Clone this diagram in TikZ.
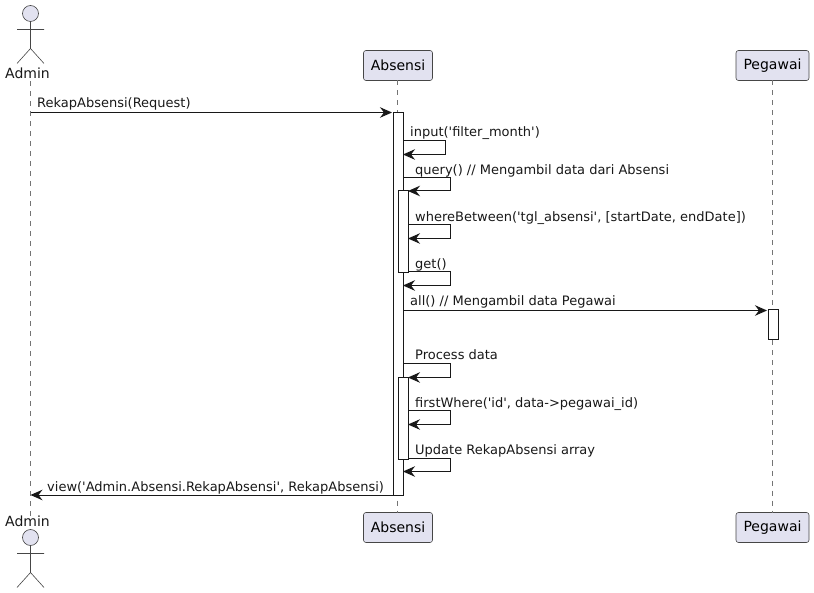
\documentclass[tikz,border=0pt]{standalone}
\usepackage{fontspec}
\newfontfamily\dejavu{DejaVu Sans}
\usetikzlibrary{arrows.meta}

\begin{document}
\begin{tikzpicture}[x=1pt, y=-1pt, >={Stealth[length=12pt, width=10.5pt, inset=4pt]}]
	% Define colors and styles
	\definecolor{ink}{HTML}{181818}
	\definecolor{lilac}{HTML}{E2E2F0}
	\tikzstyle{box} = [rectangle, draw=ink!80, line width=0.6pt, fill=lilac, rounded corners=2.5pt, minimum width=69pt, minimum height=30pt, outer sep=0pt, inner sep=0pt, font=\dejavu\fontsize{14}{16}\selectfont]
	\tikzstyle{head} = [circle, draw=ink!80, line width=0.6pt, fill=lilac, minimum size=16pt, inner sep=0pt, outer sep=0pt]
	\tikzstyle{bar} = [rectangle, draw=ink, line width=1pt, fill=white, minimum width=10pt, outer sep=0pt, inner sep=0pt]
	\tikzstyle{actor text} = [anchor=base, inner sep=0pt, font=\dejavu\fontsize{14}{16}\selectfont, text=ink]
	\tikzstyle{msg text} = [anchor=base west, inner sep=0pt, font=\dejavu\fontsize{13}{15}\selectfont, text=ink]
	\tikzstyle{lifeline} = [draw=ink!60, line width=0.6pt, dash pattern=on 5pt off 5pt]
	\tikzstyle{limb} = [draw=ink!80, line width=0.6pt]
	\tikzstyle{msg} = [draw=ink, line width=1pt, ->]

	\useasboundingbox (0,0) rectangle (814,593);

	% Nodes
	\node [head] (admin head) at (30.5,13.5) {};
	\node [actor text] (admin label) at (27.5,78.8) {Admin};
	\node [box] (absensi) at (398,65.5) {Absensi};
	\node [box, minimum width=73pt] (pegawai) at (772.5,65.5) {Pegawai};
	\node [head] (admin foot head) at (30.5,537.5) {};
	\node [actor text] (admin foot label) at (27.5,526.5) {Admin};
	\node [box] (absensi foot) at (398,527.5) {Absensi};
	\node [box, minimum width=73pt] (pegawai foot) at (772.5,527.5) {Pegawai};

	% Lifelines
	\path [lifeline] (admin label.south -| admin head.south) ++(0,2) -- (admin foot label.north -| admin head.south);
	\path [lifeline] (absensi.south) ++(-1,0) -- ([xshift=-1pt]absensi foot.north);
	\path [lifeline] (pegawai.south) -- (pegawai foot.north);

	% Activation bars
	\node [bar, minimum height=382.5pt] (main bar) at (398,303.75) {};
	\node [bar, minimum height=82pt] (query bar) at (403,232) {};
	\node [bar, minimum height=82pt] (process bar) at (403,418.5) {};
	\node [bar, minimum height=30pt] (pegawai bar) at (773,325) {};

	% Actor limbs
	\path [limb] (admin head.south) -- ++(0,27) ++(-13.5,-19) -- ++(27,0) ++(-13.5,19) -- ++(-13.5,15) ++(13.5,-15) -- ++(13.5,15);
	\path [limb] (admin foot head.south) -- ++(0,27) ++(-13.5,-19) -- ++(27,0) ++(-13.5,19) -- ++(-13.5,15) ++(13.5,-15) -- ++(13.5,15);

	% Messages
	\node [msg text] (lbl rekap) at (37,108) {RekapAbsensi(Request)};
	\node [msg text] (lbl input) at (410,137) {input('filter\_month')};
	\node [msg text] (lbl query) at (415,175) {query() // Mengambil data dari Absensi};
	\node [msg text] (lbl between) at (415,222) {whereBetween('tgl\_absensi', [startDate, endDate])};
	\node [msg text] (lbl get) at (415,269) {get()};
	\node [msg text] (lbl all) at (410,306) {all() // Mengambil data Pegawai};
	\node [msg text] (lbl process) at (415,360) {Process data};
	\node [msg text] (lbl first) at (415,407) {firstWhere('id', data->pegawai\_id)};
	\node [msg text] (lbl update) at (415,454) {Update RekapAbsensi array};
	\node [msg text] (lbl view) at (47,491) {view('Admin.Absensi.RekapAbsensi', RekapAbsensi)};

	% Connecting lines
	\path [msg] (admin head |- 0,112.5) -- ([xshift=-1pt]main bar.north west);
	\path [msg] (main bar.east |- 0,141) -- ++(42.5,0) -- ++(0,13.5) -- (main bar.east |- 0,154.5);
	\path [msg] (main bar.east |- 0,178) -- ++(47.5,0) -- ++(0,13) -- (query bar.north east);
	\path [msg] (query bar.east |- 0,225) -- ++(42.5,0) -- ++(0,13.5) -- (query bar.east |- 0,238.5);
	\path [msg] (query bar.east |- 0,272) -- ++(42.5,0) -- ++(0,13.5) -- (main bar.east |- 0,285.5);
	\path [msg] (main bar.east |- 0,310.5) -- ([xshift=-1pt]pegawai bar.north west |- 0,310.5);
	\path [msg] (main bar.east |- 0,364) -- ++(47.5,0) -- ++(0,13.5) -- (process bar.north east);
	\path [msg] (process bar.east |- 0,411) -- ++(42.5,0) -- ++(0,13.5) -- (process bar.east |- 0,424.5);
	\path [msg] (process bar.east |- 0,458) -- ++(42.5,0) -- ++(0,13.5) -- (main bar.east |- 0,471.5);
	\path [msg] (main bar.south west) -- (admin head |- main bar.south);
\end{tikzpicture}
\end{document}
